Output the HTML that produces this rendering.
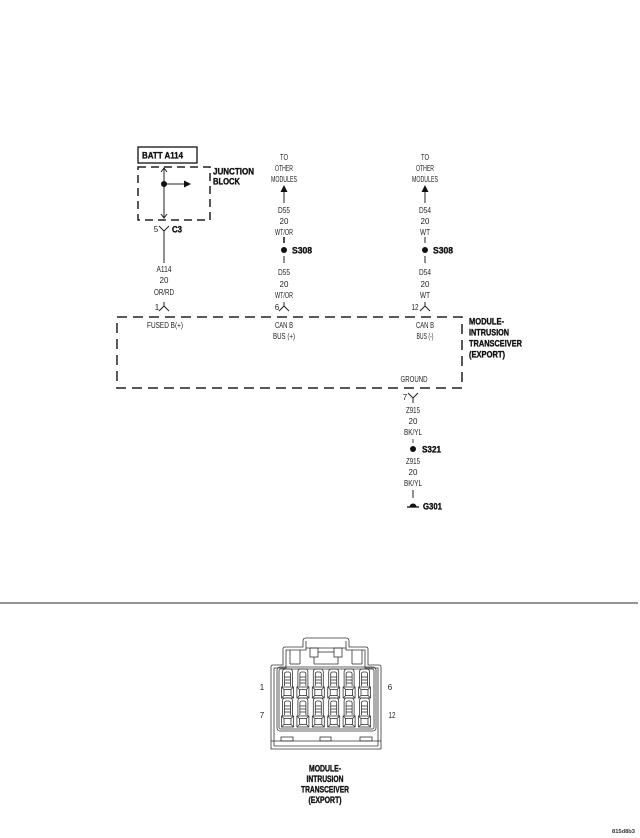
<!DOCTYPE html>
<html><head><meta charset="utf-8">
<style>
html,body{margin:0;padding:0;background:#fff;}
svg{display:block;}
.t{font-family:"Liberation Sans",sans-serif;font-size:8px;fill:#222;text-anchor:middle;}
.b{font-family:"Liberation Sans",sans-serif;font-size:9px;font-weight:bold;fill:#111;stroke:#111;stroke-width:0.35px;}
.bc{font-family:"Liberation Sans",sans-serif;font-size:9px;font-weight:bold;fill:#111;stroke:#111;stroke-width:0.35px;text-anchor:middle;}
</style></head>
<body>
<svg width="640" height="838" viewBox="0 0 640 838" xmlns="http://www.w3.org/2000/svg">
<rect width="640" height="838" fill="#fff"/>
<defs>
<g id="cell" fill="none" stroke="#333" stroke-width="0.8">
  <path d="M-5,18 L-5,3 Q-5,0 -2,0 L2,0 Q5,0 5,3 L5,18"/>
  <path d="M-3,17 L-3,5 Q-3,3 -1,3 L1,3 Q3,3 3,5 L3,17"/>
  <line x1="-3" y1="8" x2="3" y2="8"/>
  <line x1="-3" y1="11" x2="3" y2="11"/>
  <line x1="-3" y1="14" x2="3" y2="14"/>
  <rect x="-6" y="18" width="12" height="11"/>
  <rect x="-3.5" y="20.5" width="7" height="6"/>
  <line x1="-6" y1="18" x2="-3.5" y2="20.5"/>
  <line x1="6" y1="18" x2="3.5" y2="20.5"/>
  <line x1="-6" y1="29" x2="-3.5" y2="26.5"/>
  <line x1="6" y1="29" x2="3.5" y2="26.5"/>
</g>
</defs>

<!-- ===== Column 1: BATT / Junction block ===== -->
<rect x="138" y="147" width="59" height="16" fill="none" stroke="#111" stroke-width="1.3"/>
<text class="b" x="142" y="158.5" textLength="41" lengthAdjust="spacingAndGlyphs">BATT A114</text>
<rect x="138" y="167" width="72" height="53" fill="none" stroke="#222" stroke-width="1.5" stroke-dasharray="8 5"/>
<text class="b" x="213" y="174.5" textLength="41" lengthAdjust="spacingAndGlyphs">JUNCTION</text>
<text class="b" x="213" y="184.5" textLength="27" lengthAdjust="spacingAndGlyphs">BLOCK</text>
<g stroke="#222" stroke-width="1" fill="none">
  <line x1="164" y1="168" x2="164" y2="218"/>
  <polyline points="161,172 164,168 167,172"/>
  <polyline points="161,214 164,218 167,214"/>
  <line x1="164" y1="184" x2="185" y2="184"/>
  <polyline points="159,226 164,231 169,226"/>
  <line x1="164" y1="231" x2="164" y2="263"/>
  <line x1="164" y1="302" x2="164" y2="306"/>
  <polyline points="159,311 164,306 169,311"/>
</g>
<circle cx="164" cy="184" r="3" fill="#111"/>
<polygon points="191,184 184,180.5 184,187.5" fill="#111"/>
<text class="t" x="156" y="232">5</text>
<text class="b" x="172" y="232.5" textLength="10" lengthAdjust="spacingAndGlyphs">C3</text>
<text class="t" x="164" y="272" textLength="15" lengthAdjust="spacingAndGlyphs">A114</text>
<text class="t" x="164" y="283">20</text>
<text class="t" x="164" y="295" textLength="20" lengthAdjust="spacingAndGlyphs">OR/RD</text>
<text class="t" x="157" y="310">1</text>

<!-- ===== Column 2: D55 ===== -->
<text class="t" x="284" y="160" textLength="8" lengthAdjust="spacingAndGlyphs">TO</text>
<text class="t" x="284" y="171" textLength="18" lengthAdjust="spacingAndGlyphs">OTHER</text>
<text class="t" x="284" y="182" textLength="26" lengthAdjust="spacingAndGlyphs">MODULES</text>
<polygon points="284,185 280.5,192 287.5,192" fill="#111"/>
<g stroke="#222" stroke-width="1" fill="none">
  <line x1="284" y1="192" x2="284" y2="203"/>
  <line x1="284" y1="237" x2="284" y2="243" stroke-width="1.6"/>
  <line x1="284" y1="256" x2="284" y2="263"/>
  <line x1="284" y1="302" x2="284" y2="306"/>
  <polyline points="279,311 284,306 289,311"/>
</g>
<circle cx="284" cy="250" r="3" fill="#111"/>
<text class="t" x="284" y="213" textLength="12" lengthAdjust="spacingAndGlyphs">D55</text>
<text class="t" x="284" y="224">20</text>
<text class="t" x="284" y="235" textLength="18" lengthAdjust="spacingAndGlyphs">WT/OR</text>
<text class="b" x="292" y="253.5" textLength="20" lengthAdjust="spacingAndGlyphs">S308</text>
<text class="t" x="284" y="275" textLength="12" lengthAdjust="spacingAndGlyphs">D55</text>
<text class="t" x="284" y="287">20</text>
<text class="t" x="284" y="298" textLength="18" lengthAdjust="spacingAndGlyphs">WT/OR</text>
<text class="t" x="277" y="310">6</text>

<!-- ===== Column 3: D54 ===== -->
<text class="t" x="425" y="160" textLength="8" lengthAdjust="spacingAndGlyphs">TO</text>
<text class="t" x="425" y="171" textLength="18" lengthAdjust="spacingAndGlyphs">OTHER</text>
<text class="t" x="425" y="182" textLength="26" lengthAdjust="spacingAndGlyphs">MODULES</text>
<polygon points="425,185 421.5,192 428.5,192" fill="#111"/>
<g stroke="#222" stroke-width="1" fill="none">
  <line x1="425" y1="192" x2="425" y2="203"/>
  <line x1="425" y1="237" x2="425" y2="243"/>
  <line x1="425" y1="256" x2="425" y2="263"/>
  <line x1="425" y1="302" x2="425" y2="306"/>
  <polyline points="420,311 425,306 430,311"/>
</g>
<circle cx="425" cy="250" r="3" fill="#111"/>
<text class="t" x="425" y="213" textLength="12" lengthAdjust="spacingAndGlyphs">D54</text>
<text class="t" x="425" y="224">20</text>
<text class="t" x="425" y="235" textLength="10" lengthAdjust="spacingAndGlyphs">WT</text>
<text class="b" x="433" y="253.5" textLength="20" lengthAdjust="spacingAndGlyphs">S308</text>
<text class="t" x="425" y="275" textLength="12" lengthAdjust="spacingAndGlyphs">D54</text>
<text class="t" x="425" y="287">20</text>
<text class="t" x="425" y="298" textLength="10" lengthAdjust="spacingAndGlyphs">WT</text>
<text class="t" x="415" y="310" textLength="7" lengthAdjust="spacingAndGlyphs">12</text>

<!-- ===== Module box ===== -->
<rect x="117" y="317" width="345" height="71" fill="none" stroke="#222" stroke-width="1.5" stroke-dasharray="10 6"/>
<text class="t" x="165" y="328" textLength="36" lengthAdjust="spacingAndGlyphs">FUSED B(+)</text>
<text class="t" x="284" y="328" textLength="18" lengthAdjust="spacingAndGlyphs">CAN B</text>
<text class="t" x="284" y="339" textLength="22" lengthAdjust="spacingAndGlyphs">BUS (+)</text>
<text class="t" x="425" y="328" textLength="18" lengthAdjust="spacingAndGlyphs">CAN B</text>
<text class="t" x="425" y="339" textLength="17" lengthAdjust="spacingAndGlyphs">BUS (-)</text>
<text class="t" x="414" y="382" textLength="27" lengthAdjust="spacingAndGlyphs">GROUND</text>
<text class="b" x="469" y="324.5" textLength="35" lengthAdjust="spacingAndGlyphs">MODULE-</text>
<text class="b" x="469" y="335.5" textLength="40" lengthAdjust="spacingAndGlyphs">INTRUSION</text>
<text class="b" x="469" y="346.5" textLength="53" lengthAdjust="spacingAndGlyphs">TRANSCEIVER</text>
<text class="b" x="469" y="357.5" textLength="36" lengthAdjust="spacingAndGlyphs">(EXPORT)</text>

<!-- ===== Column 4: ground ===== -->
<g stroke="#222" stroke-width="1" fill="none">
  <polyline points="408,393 413,398 418,393"/>
  <line x1="413" y1="398" x2="413" y2="403"/>
  <line x1="413" y1="439" x2="413" y2="443" stroke-width="0.8"/>
  <line x1="413" y1="490" x2="413" y2="498"/>
  <line x1="407" y1="507" x2="419" y2="507" stroke-width="1.4"/>
</g>
<path d="M409.5,507 A3.5,3.5 0 0 1 416.5,507 Z" fill="#111"/>
<circle cx="413" cy="449" r="3" fill="#111"/>
<text class="t" x="405" y="400">7</text>
<text class="t" x="413" y="413" textLength="14" lengthAdjust="spacingAndGlyphs">Z915</text>
<text class="t" x="413" y="424">20</text>
<text class="t" x="413" y="435" textLength="18" lengthAdjust="spacingAndGlyphs">BK/YL</text>
<text class="b" x="422" y="452.5" textLength="19" lengthAdjust="spacingAndGlyphs">S321</text>
<text class="t" x="413" y="464" textLength="14" lengthAdjust="spacingAndGlyphs">Z915</text>
<text class="t" x="413" y="475">20</text>
<text class="t" x="413" y="486" textLength="18" lengthAdjust="spacingAndGlyphs">BK/YL</text>
<text class="b" x="423" y="509.5" textLength="19" lengthAdjust="spacingAndGlyphs">G301</text>

<!-- separator -->
<line x1="0" y1="603" x2="638" y2="603" stroke="#555" stroke-width="1.2"/>

<!-- ===== Connector drawing ===== -->
<g fill="none" stroke="#333" stroke-width="0.8">
  <path d="M271,749 L271,667 Q271,665 273,665 L283,665 L283,649 Q283,647 285,647 L303,647 L303,641 Q303,638 306,638 L346,638 Q349,638 349,641 L349,647 L366,647 Q368,647 368,649 L368,665 L379,665 Q381,665 381,667 L381,749 Z"/>
  <path d="M274,746 L274,668 L286,668 L286,650 L306,650 L306,641"/>
  <path d="M378,746 L378,668 L365,668 L365,650 L346,650 L346,641"/>
  <line x1="274" y1="746" x2="378" y2="746"/>
  <line x1="290" y1="650" x2="290" y2="664"/>
  <line x1="300" y1="650" x2="300" y2="664"/>
  <line x1="290" y1="664" x2="300" y2="664"/>
  <line x1="352" y1="650" x2="352" y2="664"/>
  <line x1="362" y1="650" x2="362" y2="664"/>
  <line x1="352" y1="664" x2="362" y2="664"/>
  <line x1="306" y1="648" x2="346" y2="648"/>
  <rect x="310" y="648" width="8" height="9"/>
  <rect x="334" y="648" width="8" height="9"/>
  <path d="M314,657 L314,664 L338,664 L338,657"/>
  <path d="M318,652 L334,652"/>
  <rect x="277" y="667" width="99" height="64" rx="3"/>
  <rect x="279" y="669" width="95" height="60" rx="2"/>
  <line x1="271" y1="741" x2="381" y2="741"/>
  <rect x="281" y="737" width="12" height="4"/>
  <rect x="320" y="737" width="11" height="4"/>
  <rect x="360" y="737" width="12" height="4"/>
</g>
<use href="#cell" x="287.5" y="669"/>
<use href="#cell" x="302.9" y="669"/>
<use href="#cell" x="318.3" y="669"/>
<use href="#cell" x="333.7" y="669"/>
<use href="#cell" x="349.1" y="669"/>
<use href="#cell" x="364.5" y="669"/>
<use href="#cell" x="287.5" y="698"/>
<use href="#cell" x="302.9" y="698"/>
<use href="#cell" x="318.3" y="698"/>
<use href="#cell" x="333.7" y="698"/>
<use href="#cell" x="349.1" y="698"/>
<use href="#cell" x="364.5" y="698"/>
<text class="t" x="262" y="690">1</text>
<text class="t" x="390" y="690">6</text>
<text class="t" x="262" y="718">7</text>
<text class="t" x="392" y="718" textLength="7" lengthAdjust="spacingAndGlyphs">12</text>

<text class="bc" x="325" y="771.5" textLength="32" lengthAdjust="spacingAndGlyphs">MODULE-</text>
<text class="bc" x="325" y="782" textLength="37" lengthAdjust="spacingAndGlyphs">INTRUSION</text>
<text class="bc" x="325" y="792.5" textLength="48" lengthAdjust="spacingAndGlyphs">TRANSCEIVER</text>
<text class="bc" x="325" y="803" textLength="33" lengthAdjust="spacingAndGlyphs">(EXPORT)</text>

<text x="612" y="833" font-family="Liberation Sans, sans-serif" font-size="5" font-weight="bold" fill="#333" textLength="23" lengthAdjust="spacingAndGlyphs">815d8b3</text>
</svg>
</body></html>
